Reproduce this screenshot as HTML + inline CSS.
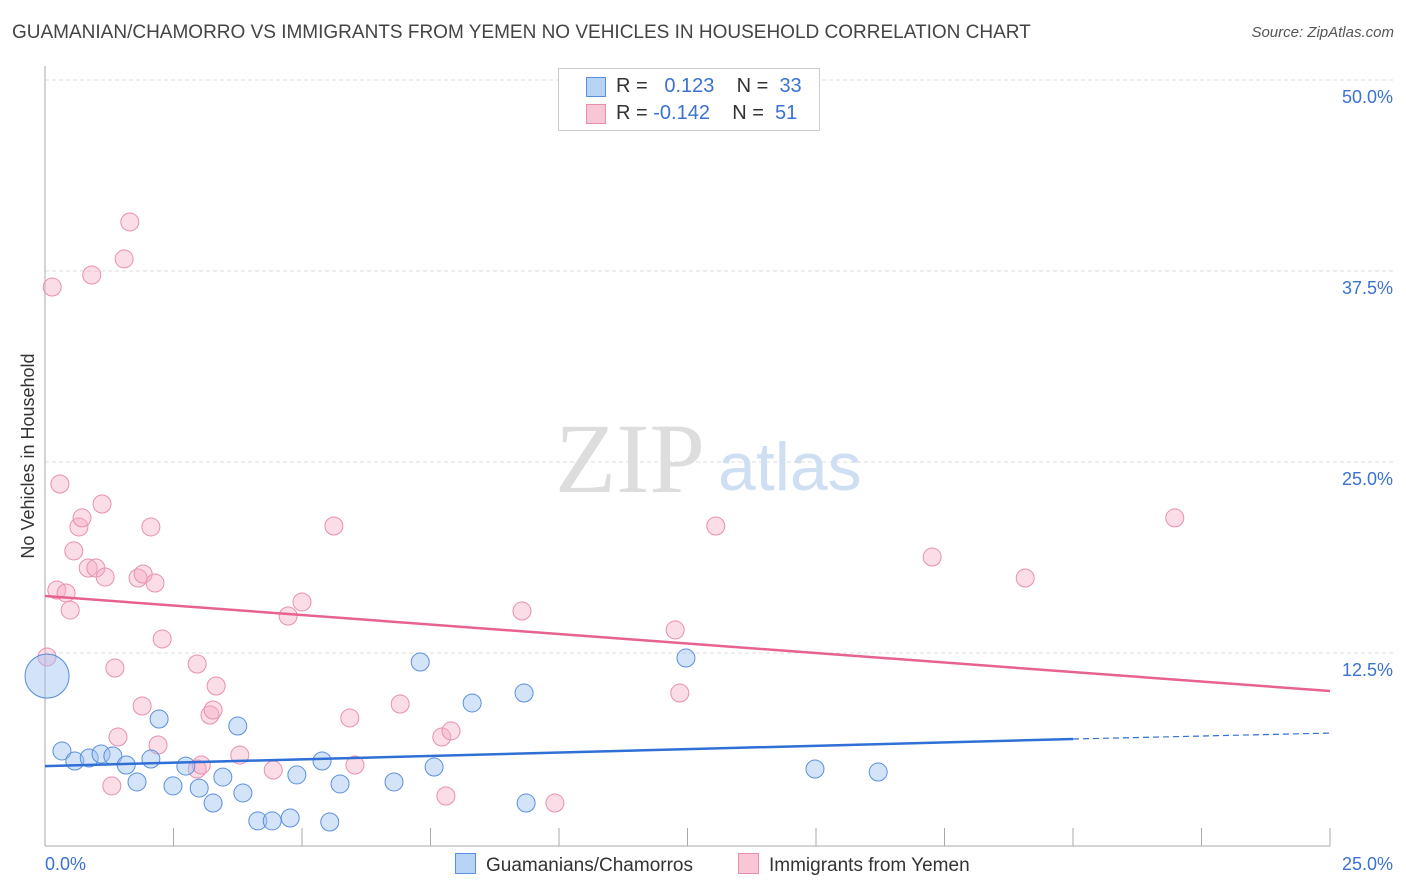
<!DOCTYPE html>
<html><head><meta charset="utf-8"><style>
body{margin:0;background:#fff;font-family:"Liberation Sans",sans-serif;}
#wrap{position:relative;width:1406px;height:892px;overflow:hidden;}
.t{position:absolute;white-space:nowrap;}
</style></head><body>
<div id="wrap">
<div class="t" style="left:12px;top:22px;font-size:19px;color:#444;">GUAMANIAN/CHAMORRO VS IMMIGRANTS FROM YEMEN NO VEHICLES IN HOUSEHOLD CORRELATION CHART</div>
<div class="t" style="right:12px;top:24px;font-size:15px;color:#555;font-style:italic;">Source: ZipAtlas.com</div>
<svg id="svg" width="1406" height="892" style="position:absolute;left:0;top:0"></svg>
</div>
<script>
const blueX=[0.04,0.33,0.58,0.86,1.09,1.32,1.58,1.79,2.06,2.22,2.49,2.74,3.00,3.27,3.46,3.75,3.85,4.14,4.42,4.77,4.90,5.39,5.54,5.74,6.79,7.30,7.57,8.31,9.32,9.36,12.47,14.98,16.21];
const blueY=[10.99,6.09,5.43,5.63,5.89,5.76,5.17,4.06,5.56,8.18,3.80,5.10,3.66,2.68,4.38,7.72,3.34,1.51,1.51,1.70,4.52,5.43,1.44,3.93,4.06,11.91,5.04,9.23,9.88,2.68,12.17,4.91,4.71];
const pinkX=[0.04,0.14,0.23,0.29,0.41,0.49,0.56,0.66,0.72,0.84,0.91,0.99,1.11,1.17,1.30,1.36,1.42,1.54,1.65,1.81,1.89,1.91,2.06,2.14,2.20,2.28,2.96,2.96,3.04,3.21,3.27,3.33,3.79,4.44,4.73,5.00,5.62,5.93,6.03,6.91,7.72,7.80,7.90,9.28,9.92,12.26,12.35,13.05,17.26,19.07,21.98];
const pinkY=[12.24,36.45,16.62,23.56,16.43,15.31,19.18,20.75,21.34,18.06,37.24,18.06,22.25,17.47,3.80,11.52,7.00,38.29,40.71,17.41,9.03,17.67,20.75,17.08,6.48,13.42,11.78,4.91,5.17,8.44,8.77,10.34,5.82,4.84,14.92,15.84,20.81,8.25,5.17,9.16,7.00,3.14,7.40,15.25,2.68,14.01,9.88,20.81,18.78,17.41,21.34];
const yTicks=[12.5,25.0,37.5,50.0];
const yTickLabels=["12.5%","25.0%","37.5%","50.0%"];
const pinkTrend=[16.23,10.01];
const blueTrend=[5.10,6.87,7.26];
const blueSolidEnd=20;

const X=v=>45+v*51.4, Y=v=>844-v*15.28;
const svg=document.getElementById('svg');
const NS='http://www.w3.org/2000/svg';
function mk(tag,at,name,parent){const e=document.createElementNS(NS,tag);for(const k in at)e.setAttribute(k,at[k]);


(parent||svg).appendChild(e);return e;}
yTicks.forEach((t,i)=>{
 mk('line',{x1:45,x2:1393,y1:Y(t),y2:Y(t),stroke:'#ddd','stroke-dasharray':'4,3'},'y-gridline');
 const tx=mk('text',{x:1393,y:Y(t)+23,'text-anchor':'end','font-size':18,fill:'#3a72d2','font-family':'Liberation Sans'},'y-tick-label');
 tx.textContent=yTickLabels[i];
});
mk('line',{x1:45,x2:45,y1:66,y2:846,stroke:'#aaa'},'y-axis');
mk('line',{x1:45,x2:1330,y1:846,y2:846,stroke:'#aaa'},'x-axis');
for(let i=1;i<=10;i++){mk('line',{x1:X(i*2.5),x2:X(i*2.5),y1:828,y2:846,stroke:'#aaa'},'x-tick');}
let t=mk('text',{x:45,y:870,'font-size':18,fill:'#3a72d2','font-family':'Liberation Sans'},'x-min-label');t.textContent='0.0%';
t=mk('text',{x:1393,y:870,'text-anchor':'end','font-size':18,fill:'#3a72d2','font-family':'Liberation Sans'},'x-max-label');t.textContent='25.0%';
t=mk('text',{x:34,y:456,'text-anchor':'middle','font-size':18,fill:'#333','font-family':'Liberation Sans',transform:'rotate(-90 34 456)'},'y-axis-title');t.textContent='No Vehicles in Household';
t=mk('text',{x:555,y:492,'font-size':100,fill:'#ddd','font-family':'Liberation Serif'},'watermark-zip');t.textContent='ZIP';
t=mk('text',{x:718,y:490,'font-size':68,fill:'#cfdff3','font-family':'Liberation Sans'},'watermark-atlas');t.textContent='atlas';
pinkX.forEach((x,i)=>{mk('circle',{cx:X(x),cy:Y(pinkY[i]),r:9,fill:'rgba(246,170,195,0.4)',stroke:'#e98fae','stroke-width':1},'pink-point');});
blueX.forEach((x,i)=>{mk('circle',{cx:X(x),cy:Y(blueY[i]),r:i===0?22:9,fill:'rgba(160,196,240,0.45)',stroke:'#5b8fdf','stroke-width':1},'blue-point');});
mk('line',{x1:X(0),x2:X(25),y1:Y(pinkTrend[0]),y2:Y(pinkTrend[1]),stroke:'#e8628f','stroke-width':2.5},'pink-trend-line');
mk('line',{x1:X(0),x2:X(blueSolidEnd),y1:Y(blueTrend[0]),y2:Y(blueTrend[1]),stroke:'#2f6fd6','stroke-width':2.5},'blue-trend-line');
mk('line',{x1:X(blueSolidEnd),x2:X(25),y1:Y(blueTrend[1]),y2:Y(blueTrend[2]),stroke:'#2f6fd6','stroke-width':1.2,'stroke-dasharray':'6,4'},'blue-trend-extension');
</script>
<div class="t" style="left:558px;top:68px;width:260px;height:61px;border:1px solid #ccc;background:#fff;font-size:20px;color:#333;">
 <div style="position:absolute;left:27px;top:8px;width:18px;height:18px;background:#b8d4f5;border:1px solid #5b8fdf;"></div>
 <div style="position:absolute;left:57px;top:6px;">R = &nbsp;<span style="color:#3a72d2">&nbsp;0.123</span>&nbsp;&nbsp;&nbsp; N = &nbsp;<span style="color:#3a72d2">33</span></div>
 <div style="position:absolute;left:27px;top:35px;width:18px;height:18px;background:#f9c6d6;border:1px solid #e98fae;"></div>
 <div style="position:absolute;left:57px;top:33px;">R = <span style="color:#3a72d2">-0.142</span>&nbsp;&nbsp;&nbsp; N = &nbsp;<span style="color:#3a72d2">51</span></div>
</div>
<div class="t" style="left:455px;top:853px;font-size:19px;color:#333;"><span style="display:inline-block;width:19px;height:19px;background:#b8d4f5;border:1px solid #5b8fdf;vertical-align:-3px;margin-right:10px"></span>Guamanians/Chamorros</div>
<div class="t" style="left:738px;top:853px;font-size:19px;color:#333;"><span style="display:inline-block;width:19px;height:19px;background:#f9c6d6;border:1px solid #e98fae;vertical-align:-3px;margin-right:10px"></span>Immigrants from Yemen</div>
</body></html>
